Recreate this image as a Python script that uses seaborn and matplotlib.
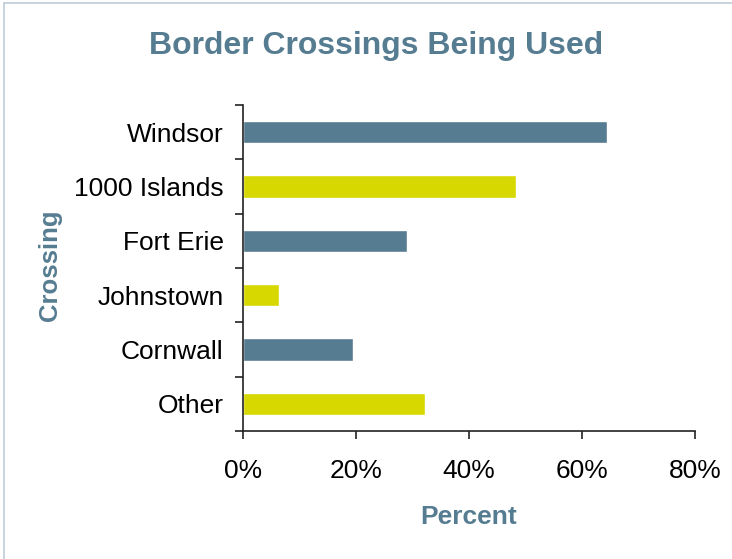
import matplotlib
matplotlib.use("Agg")
import matplotlib.pyplot as plt
from matplotlib.lines import Line2D
from matplotlib.ticker import FixedLocator, PercentFormatter
import pandas as pd
import seaborn as sns

# Survey results: share of respondents using each border crossing
crossings = ["Windsor", "1000 Islands", "Fort Erie", "Johnstown", "Cornwall", "Other"]
percent = [64.4, 48.4, 29.0, 6.3, 19.4, 32.2]
x_ticks = [0, 20, 40, 60, 80]

SLATE = "#567C91"
LIME = "#D7D800"
bar_colors = [SLATE, LIME, SLATE, LIME, SLATE, LIME]

df = pd.DataFrame({"Crossing": crossings, "Percent": percent})

sns.set_theme(style="white")
plt.rcParams["font.family"] = ["Liberation Sans", "DejaVu Sans"]

fig = plt.figure(figsize=(7.32, 5.59), dpi=100)
ax = fig.add_axes([243 / 732, 1 - 431 / 559, 452 / 732, 326 / 559])

sns.barplot(data=df, x="Percent", y="Crossing", hue="Crossing",
            palette=bar_colors, order=crossings, hue_order=crossings,
            width=0.41, saturation=1, legend=False, ax=ax)

ax.set_xlim(0, 80)
ax.set_ylim(len(crossings) - 0.5, -0.5)
ax.xaxis.set_major_locator(FixedLocator(x_ticks))
ax.xaxis.set_major_formatter(PercentFormatter(decimals=0))

# category ticks sit between the bars
ax.yaxis.set_minor_locator(FixedLocator([i - 0.5 for i in range(len(crossings) + 1)]))
ax.tick_params(axis="y", which="major", length=0, pad=14, labelsize=19, labelcolor="black")
ax.tick_params(axis="y", which="minor", length=6, width=1.2, color="#222222", direction="out", left=True)
ax.tick_params(axis="x", which="major", length=6, width=1.2, color="#222222", direction="out",
               bottom=True, pad=14, labelsize=19, labelcolor="black")

for side in ("top", "right"):
    ax.spines[side].set_visible(False)
for side in ("left", "bottom"):
    ax.spines[side].set_color("#222222")
    ax.spines[side].set_linewidth(1.2)

ax.set_xlabel("Percent", fontsize=19, fontweight="bold", color=SLATE, labelpad=16)
ax.set_ylabel("Crossing", fontsize=18.5, fontweight="bold", color=SLATE)
ax.yaxis.set_label_coords(-0.40, 0.509)

fig.text(376 / 732, 1 - 46 / 559, "Border Crossings Being Used", ha="center", va="center",
         fontsize=23, fontweight="bold", color=SLATE)

# thin frame around the chart area
frame_color = "#BFCDD8"
fig.add_artist(Line2D([4 / 732, 1.0], [1 - 3 / 559, 1 - 3 / 559], transform=fig.transFigure,
                      color=frame_color, linewidth=1.2))
fig.add_artist(Line2D([4 / 732, 4 / 732], [0.0, 1 - 3 / 559], transform=fig.transFigure,
                      color=frame_color, linewidth=1.2))

fig.savefig("out.png", dpi=100, facecolor="white")
